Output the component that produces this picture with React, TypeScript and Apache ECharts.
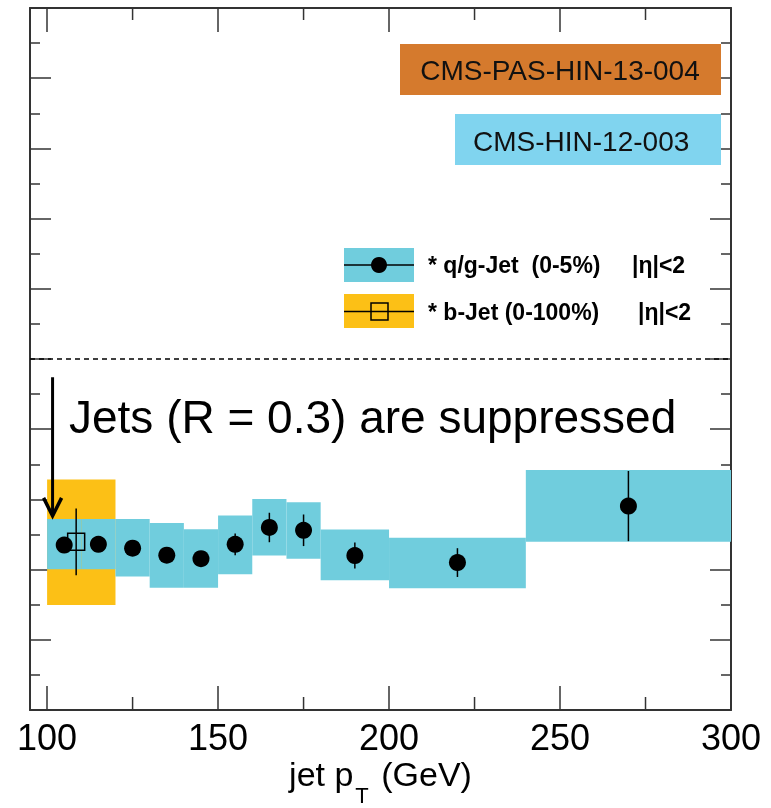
import React, { useEffect, useRef } from "react";
import * as echarts from "echarts";

// ---- data ----
const binLow = [100, 110, 120, 130, 140, 150, 160, 170, 180, 200, 240];
const binHigh = [110, 120, 130, 140, 150, 160, 170, 180, 200, 240, 300];
const qgPt = [105, 115, 125, 135, 145, 155, 165, 175, 190, 220, 270];
const qgRaa = [0.47, 0.472, 0.461, 0.441, 0.431, 0.472, 0.52, 0.512, 0.44, 0.42, 0.581];
const qgStat = [0.02, 0.02, 0.02, 0.02, 0.02, 0.031, 0.042, 0.045, 0.037, 0.041, 0.1];
const qgSysLow = [0.401, 0.401, 0.38, 0.348, 0.348, 0.387, 0.44, 0.431, 0.37, 0.347, 0.479];
const qgSysHigh = [0.544, 0.544, 0.544, 0.533, 0.515, 0.554, 0.601, 0.592, 0.514, 0.491, 0.684];

const bBinLow = [100];
const bBinHigh = [120];
const bPt = [108.5];
const bRaa = [0.479];
const bStat = [0.095];
const bSysLow = [0.299];
const bSysHigh = [0.657];

const arrowX = [101.6];
const arrowFrom = [0.948];
const arrowTo = [0.553];

const xMajor = [100, 150, 200, 250, 300];
const xMinor = [125, 175, 225, 275];
const X_MIN = 95;
const X_MAX = 300;
const Y_MIN = 0;
const Y_MAX = 2;

const FONT = "'Liberation Sans', Arial, Helvetica, sans-serif";
const CYAN = "#70CDDD";
const ORANGE = "#FCC016";
const AXIS = "#333";

function boxRender(color: string) {
  return (params: any, api: any) => {
    const p1 = api.coord([api.value(0), api.value(3)]);
    const p2 = api.coord([api.value(1), api.value(2)]);
    return {
      type: "rect",
      shape: { x: p1[0], y: p1[1], width: p2[0] - p1[0], height: p2[1] - p1[1] },
      style: { fill: color },
    };
  };
}

function errRender(params: any, api: any) {
  const a = api.coord([api.value(0), api.value(1)]);
  const b = api.coord([api.value(0), api.value(2)]);
  return {
    type: "line",
    shape: { x1: a[0], y1: a[1], x2: b[0], y2: b[1] },
    style: { stroke: "#000", lineWidth: 1.5 },
  };
}

function minorTickRender(params: any, api: any) {
  const b = api.coord([api.value(0), Y_MIN]);
  const t = api.coord([api.value(0), Y_MAX]);
  return {
    type: "group",
    children: [
      { type: "line", shape: { x1: b[0], y1: b[1], x2: b[0], y2: b[1] - 13 }, style: { stroke: AXIS, lineWidth: 1.5 } },
      { type: "line", shape: { x1: t[0], y1: t[1], x2: t[0], y2: t[1] + 12 }, style: { stroke: AXIS, lineWidth: 1.5 } },
    ],
  };
}

function arrowRender(params: any, api: any) {
  const a = api.coord([api.value(0), api.value(1)]);
  const b = api.coord([api.value(0), api.value(2)]);
  return {
    type: "group",
    children: [
      { type: "line", shape: { x1: a[0], y1: a[1], x2: b[0], y2: b[1] }, style: { stroke: "#000", lineWidth: 3 } },
      {
        type: "polyline",
        shape: { points: [[b[0] - 9, b[1] - 18], [b[0], b[1]], [b[0] + 9, b[1] - 18]] },
        style: { stroke: "#000", lineWidth: 3.5, fill: null },
      },
    ],
  };
}

export default function App() {
  const ref = useRef<HTMLDivElement>(null);
  useEffect(() => {
    if (!ref.current) return;
    const chart = echarts.init(ref.current, undefined, { renderer: "svg" });
    const tickStyle = { color: AXIS, width: 1.5 };
    const yAx = (pos: string) => ({
      type: "value",
      min: Y_MIN,
      max: Y_MAX,
      interval: 0.2,
      position: pos,
      axisLine: { show: true, onZero: false, lineStyle: { color: AXIS, width: 2 } },
      axisTick: { show: true, inside: true, length: 21, lineStyle: tickStyle },
      minorTick: { show: true, splitNumber: 2, length: 10, lineStyle: tickStyle },
      axisLabel: { show: false },
      splitLine: { show: false },
      minorSplitLine: { show: false },
    });
    const txt = (text: string, x: number, y: number, fontSize: number, extra: any = {}) => ({
      type: "text",
      z: 11,
      x,
      y,
      style: {
        text,
        fontSize,
        fontFamily: FONT,
        fill: "#000",
        align: "left",
        verticalAlign: "middle",
        textAlign: "left",
        textVerticalAlign: "middle",
        ...extra,
      },
    });
    const option: any = {
      animation: false,
      grid: { left: 30, top: 8, width: 701, height: 702, containLabel: false, outerBoundsMode: "none" },
      xAxis: [
        {
          type: "value",
          min: X_MIN,
          max: X_MAX,
          position: "bottom",
          splitLine: { show: false },
          axisLine: { show: true, onZero: false, lineStyle: { color: AXIS, width: 2 } },
          axisTick: { show: true, inside: true, length: 24, customValues: xMajor, lineStyle: tickStyle },
          axisLabel: { show: true, customValues: xMajor, fontSize: 36, fontFamily: FONT, color: "#000", margin: 9 },
          name: "{a|jet p}{s|T}{a| (GeV)}",
          nameLocation: "middle",
          nameGap: 58,
          nameMoveOverlap: false,
          nameTextStyle: {
            rich: {
              a: { fontSize: 34, fontFamily: FONT, color: "#000", lineHeight: 40, padding: [0, 0, 28, 0] },
              s: { fontSize: 22, fontFamily: FONT, color: "#000", lineHeight: 22, padding: [30, 3, 16, 2] },
            },
          },
        },
        {
          type: "value",
          min: X_MIN,
          max: X_MAX,
          position: "top",
          splitLine: { show: false },
          axisLine: { show: true, onZero: false, lineStyle: { color: AXIS, width: 2 } },
          axisTick: { show: true, inside: true, length: 24, customValues: xMajor, lineStyle: tickStyle },
          axisLabel: { show: false },
        },
      ],
      yAxis: [yAx("left"), yAx("right")],
      series: [
        {
          name: "b-jet sys",
          type: "custom",
          renderItem: boxRender(ORANGE),
          data: bBinLow.map((v, i) => [v, bBinHigh[i], bSysLow[i], bSysHigh[i]]),
          encode: { x: [0, 1], y: [2, 3] },
          z: 1,
        },
        {
          name: "q/g-jet sys",
          type: "custom",
          renderItem: boxRender(CYAN),
          data: binLow.map((v, i) => [v, binHigh[i], qgSysLow[i], qgSysHigh[i]]),
          encode: { x: [0, 1], y: [2, 3] },
          z: 2,
        },
        {
          name: "q/g-jet stat",
          type: "custom",
          renderItem: errRender,
          data: qgPt.map((v, i) => [v, qgRaa[i] - qgStat[i], qgRaa[i] + qgStat[i]]),
          encode: { x: 0, y: [1, 2] },
          z: 3,
        },
        {
          name: "b-jet stat",
          type: "custom",
          renderItem: errRender,
          data: bPt.map((v, i) => [v, bRaa[i] - bStat[i], bRaa[i] + bStat[i]]),
          encode: { x: 0, y: [1, 2] },
          z: 3,
        },
        {
          name: "q/g-jet",
          type: "scatter",
          symbol: "circle",
          symbolSize: 17,
          itemStyle: { color: "#000", opacity: 1 },
          data: qgPt.map((v, i) => [v, qgRaa[i]]),
          z: 4,
          markLine: {
            silent: true,
            symbol: ["none", "none"],
            label: { show: false },
            lineStyle: { color: "#000", width: 1.5, type: [5, 4] },
            data: [{ yAxis: 1 }],
          },
        },
        {
          name: "b-jet",
          type: "scatter",
          symbol: "rect",
          symbolSize: [17, 17],
          itemStyle: { color: "rgba(0,0,0,0)", borderColor: "#000", borderWidth: 1.5, opacity: 1 },
          data: bPt.map((v, i) => [v, bRaa[i]]),
          z: 5,
        },
        {
          name: "arrow",
          type: "custom",
          renderItem: arrowRender,
          data: arrowX.map((v, i) => [v, arrowFrom[i], arrowTo[i]]),
          encode: { x: 0, y: [1, 2] },
          z: 6,
        },
        {
          name: "minor x ticks",
          type: "custom",
          renderItem: minorTickRender,
          data: xMinor.map((v) => [v]),
          encode: { x: 0 },
          silent: true,
          z: 7,
        },
      ],
      graphic: [
        { type: "rect", z: 10, shape: { x: 400, y: 44, width: 321, height: 51 }, style: { fill: "#D57A2D" } },
        txt("CMS-PAS-HIN-13-004", 560, 70, 28, { fill: "#111", align: "center", textAlign: "center" }),
        { type: "rect", z: 10, shape: { x: 455, y: 114, width: 266, height: 51 }, style: { fill: "#80D4EF" } },
        txt("CMS-HIN-12-003", 473, 141, 28, { fill: "#111" }),
        // legend
        { type: "rect", z: 10, shape: { x: 344, y: 248, width: 70, height: 34 }, style: { fill: CYAN } },
        { type: "line", z: 11, shape: { x1: 344, y1: 265, x2: 414, y2: 265 }, style: { stroke: "#000", lineWidth: 1.5 } },
        { type: "circle", z: 12, shape: { cx: 379, cy: 265, r: 8 }, style: { fill: "#000" } },
        { type: "rect", z: 10, shape: { x: 344, y: 294, width: 70, height: 34 }, style: { fill: ORANGE } },
        { type: "line", z: 11, shape: { x1: 344, y1: 311.5, x2: 414, y2: 311.5 }, style: { stroke: "#000", lineWidth: 1.5 } },
        { type: "rect", z: 12, shape: { x: 371, y: 303, width: 17, height: 17 }, style: { fill: null, stroke: "#000", lineWidth: 1.5 } },
        txt("* q/g-Jet  (0-5%)", 428, 265, 23, { fontWeight: "bold" }),
        txt("|η|<2", 632, 265, 23, { fontWeight: "bold" }),
        txt("* b-Jet (0-100%)", 428, 312, 23, { fontWeight: "bold" }),
        txt("|η|<2", 638, 312, 23, { fontWeight: "bold" }),
        txt("Jets (R = 0.3) are suppressed", 69, 417, 46),
      ],
    };
    chart.setOption(option);
    return () => chart.dispose();
  }, []);
  return <div ref={ref} style={{ position: "fixed", left: 0, top: 0, width: 771, height: 808 }} />;
}
